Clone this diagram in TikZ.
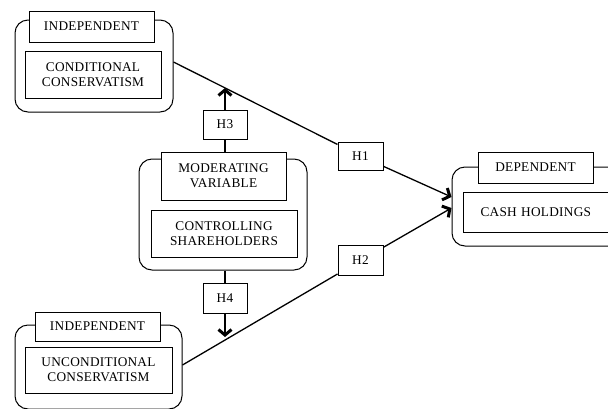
\documentclass[tikz,border=0pt]{standalone}
\usepackage{fontspec}
\setmainfont[LetterSpace=2]{Liberation Serif}
\usetikzlibrary{arrows.meta}
\begin{document}
\begin{tikzpicture}[x=1pt,y=-1pt,
  outerbox/.style={draw, line width=1pt, rounded corners=13pt, inner sep=0pt},
  tagbox/.style={draw, line width=1pt, fill=white, inner sep=0pt, align=center,
    font=\fontsize{13.3}{15}\selectfont},
  link/.style={line width=1.3pt},
  arr/.style={link, -{Straight Barb[length=5.5pt,width=13pt,line width=3pt]}}]
\useasboundingbox (0,0) rectangle (608,408);
\clip (0,0) rectangle (608,408);
% conditional
\node[outerbox, minimum width=158pt, minimum height=92pt] (condO) at (94,66) {};
\node[tagbox, minimum width=125pt, minimum height=31pt] (condL) at (91.5,26.5) {INDEPENDENT};
\node[tagbox, minimum width=136pt, minimum height=47pt] (condI) at (93,74.5) {CONDITIONAL\\CONSERVATISM};
% unconditional
\node[outerbox, minimum width=167pt, minimum height=84pt] (uncO) at (98.5,367) {};
\node[tagbox, minimum width=125pt, minimum height=29pt] (uncL) at (97.5,326.5) {INDEPENDENT};
\node[tagbox, minimum width=147pt, minimum height=46pt] (uncI) at (98.5,370) {UNCONDITIONAL\\CONSERVATISM};
% moderating
\node[outerbox, minimum width=168pt, minimum height=111pt] (modO) at (223,214.5) {};
\node[tagbox, minimum width=125pt, minimum height=48pt] (modL) at (223.5,176) {MODERATING\\VARIABLE};
\node[tagbox, minimum width=146pt, minimum height=47pt] (modI) at (224,233.5) {CONTROLLING\\SHAREHOLDERS};
% dependent
\node[outerbox, minimum width=188pt, minimum height=79pt] (depO) at (546,206.5) {};
\node[tagbox, minimum width=115pt, minimum height=31pt] (depL) at (535.5,167.5) {DEPENDENT};
\node[tagbox, anchor=west, text width=160pt, align=left, inner xsep=17pt, minimum height=40pt] (depI) at (463,212.5) {CASH HOLDINGS};
% hypotheses
\node[tagbox, minimum width=45pt, minimum height=28pt] (H1) at (360.5,156) {H1};
\node[tagbox, minimum width=45pt, minimum height=30pt] (H2) at (360.5,260.5) {H2};
\node[tagbox, minimum width=44pt, minimum height=29pt] (H3) at (225,124.5) {H3};
\node[tagbox, minimum width=44pt, minimum height=30pt] (H4) at (225,298) {H4};
\coordinate (t3) at (225,88);
\coordinate (t4) at (225,337);
% connectors
\draw[link] ([yshift=4pt]condO.east) -- (H1);
\draw[arr] (H1) -- ([yshift=9.5pt]depO.west);
\draw[link] ([yshift=2pt]uncO.east) -- (H2);
\draw[arr] (H2) -- ([yshift=-1.5pt]depO.west);
\draw[link] (H3 |- modL.north) -- (H3);
\draw[arr] (H3) -- (t3);
\draw[link] (H4 |- modO.south) -- (H4);
\draw[arr] (H4) -- (t4);
\end{tikzpicture}
\end{document}
